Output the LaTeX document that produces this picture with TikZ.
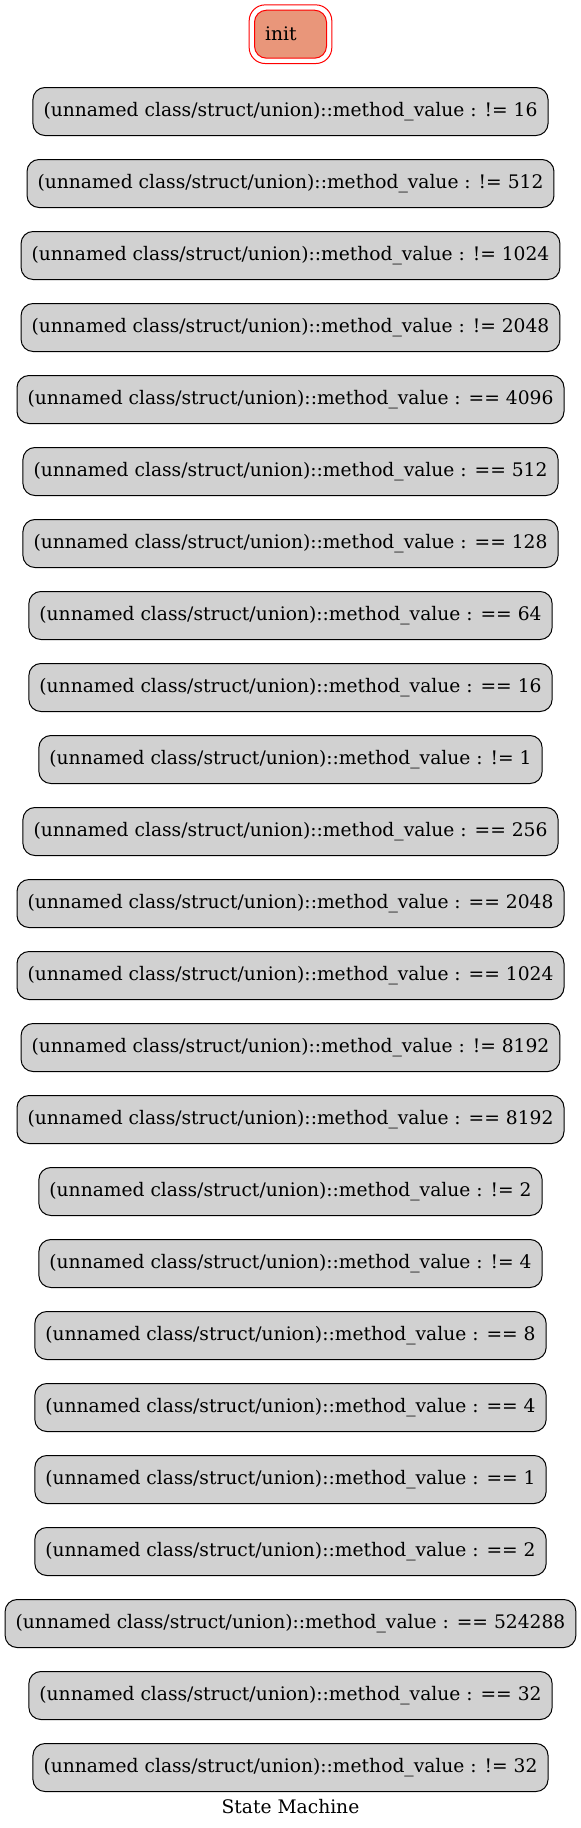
\documentclass[tikz,border=0pt]{standalone}
\usepackage{fontspec}
\setmainfont{DejaVu Serif}
\tikzset{
  statebox/.style={draw=black, line width=0.75pt, fill=boxgray, rounded corners=9pt,
    minimum height=36pt, inner xsep=7.92pt, inner ysep=0pt,
    font=\fontsize{14}{16.8}\selectfont},
  initbox/.style={draw=red, line width=0.75pt, fill=initfill, rounded corners=9pt,
    minimum height=36pt, minimum width=54pt, text width=38.16pt, align=left,
    inner xsep=7.92pt, inner ysep=0pt, font=\fontsize{14}{16.8}\selectfont},
  initouter/.style={draw=red, line width=0.75pt, rounded corners=12pt,
    minimum height=44pt, minimum width=62pt, inner sep=0pt},
  titletext/.style={font=\fontsize{14}{16.8}\selectfont, inner sep=0pt}
}
\definecolor{boxgray}{RGB}{209,209,209}
\definecolor{initfill}{RGB}{233,150,122}
\begin{document}
\begin{tikzpicture}[x=0.75pt,y=-0.75pt]
\useasboundingbox (0,0) rectangle (581,1828);
\node[initouter] (initout) at (290.5,34.2) {};
\node[initbox] (init) at (290.5,34.2) {init};
\foreach \i/\t in {
 1/{!= 16}, 2/{!= 512}, 3/{!= 1024}, 4/{!= 2048}, 5/{== 4096}, 6/{== 512},
 7/{== 128}, 8/{== 64}, 9/{== 16}, 10/{!= 1}, 11/{== 256}, 12/{== 2048},
 13/{== 1024}, 14/{!= 8192}, 15/{== 8192}, 16/{!= 2}, 17/{!= 4}, 18/{== 8},
 19/{== 4}, 20/{== 1}, 21/{== 2}, 22/{== 524288}, 23/{== 32}, 24/{!= 32}}
{
  \node[statebox] (n\i) at (290.5,{111.5+72*(\i-1)}) {(unnamed class/struct/union)::method\_value : \t};
}
\node[titletext] (title) at (290.5,1807) {State Machine};
\end{tikzpicture}
\end{document}
